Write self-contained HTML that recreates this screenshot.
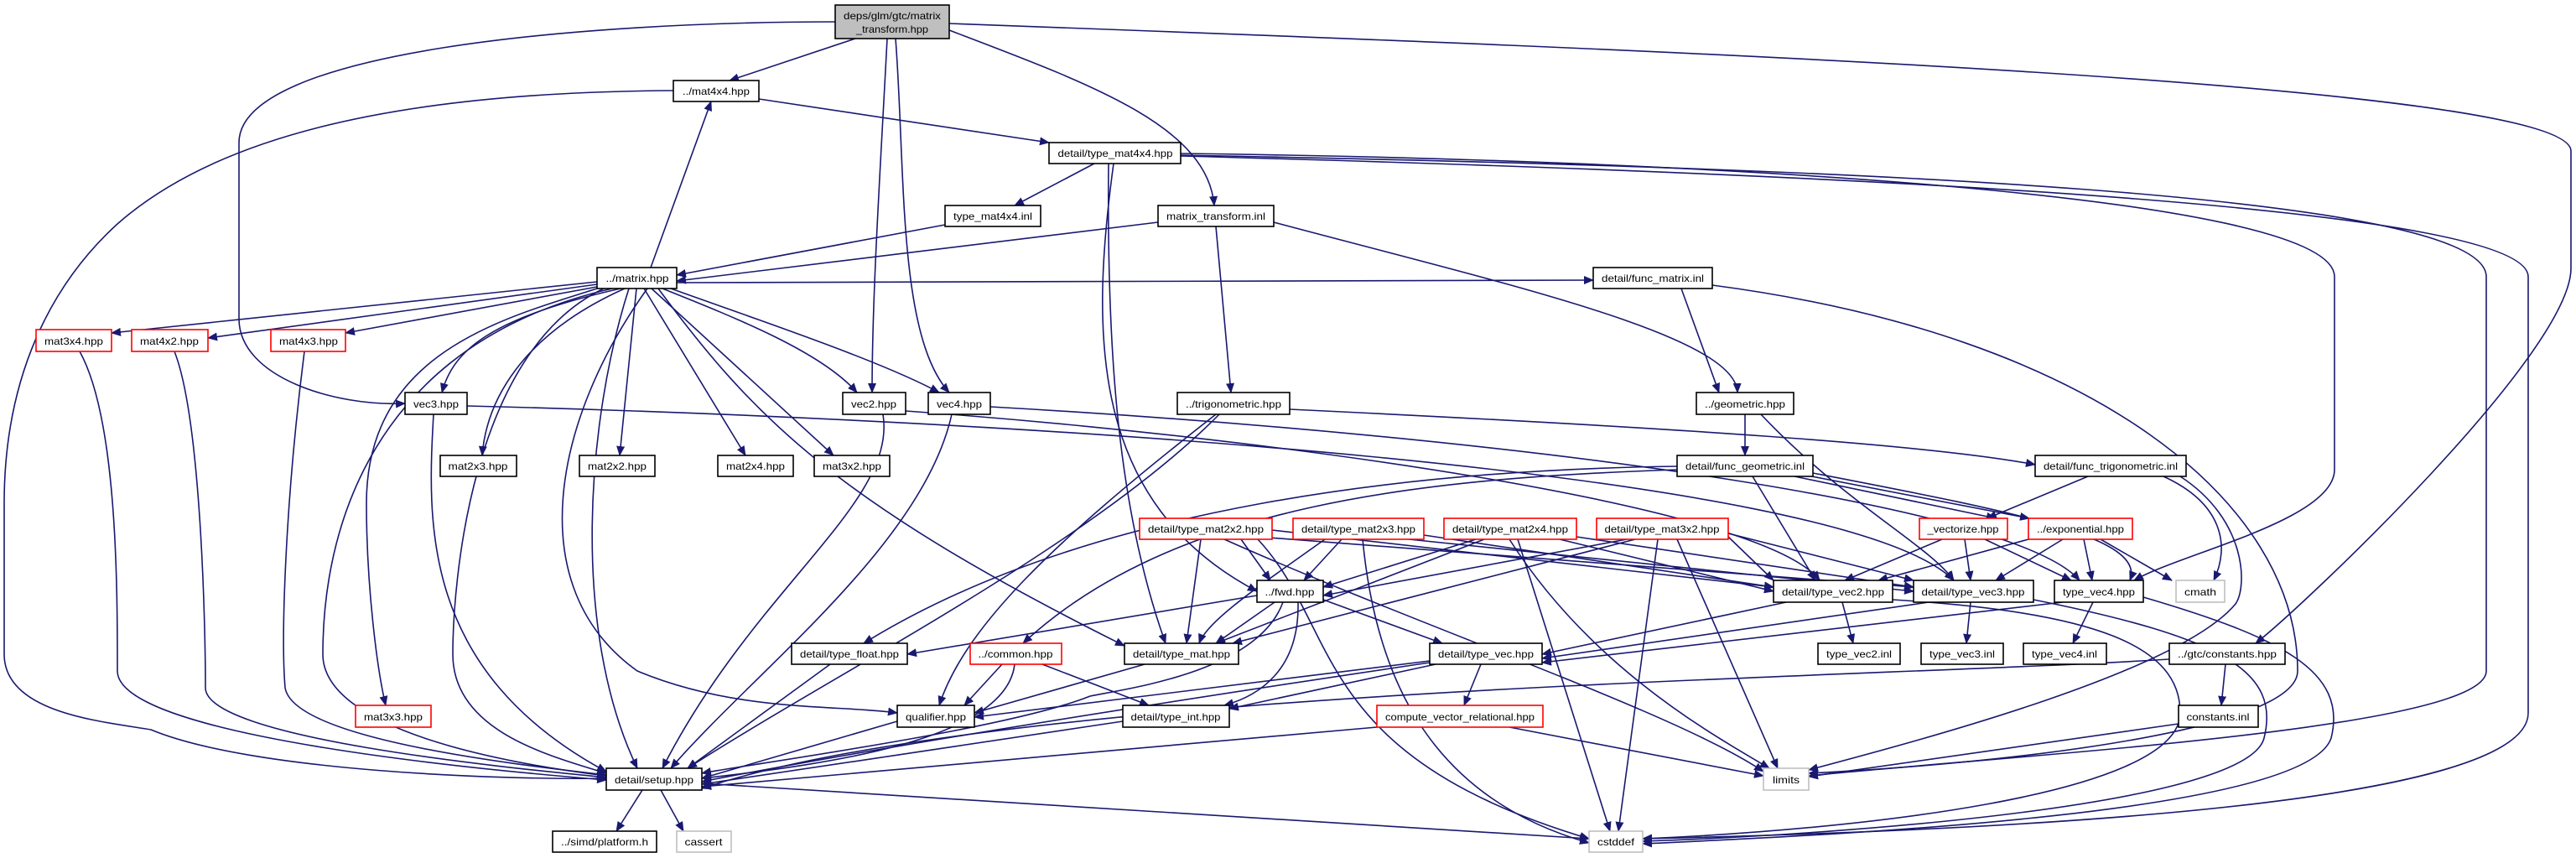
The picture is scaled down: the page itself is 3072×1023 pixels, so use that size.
<!DOCTYPE html>
<html><head><meta charset="utf-8"><style>
html,body{margin:0;padding:0;background:#fff;}
svg{display:block}
text{font-family:"Liberation Sans",sans-serif;font-size:12px;fill:#000}
.e{fill:none;stroke:#191970;stroke-width:1.6;marker-end:url(#a)}
.n{fill:#fff;stroke:#000;stroke-width:1.6}
.r{fill:#fff;stroke:#ff0000;stroke-width:1.6}
.g{fill:#fff;stroke:#bfbfbf;stroke-width:1.6}
</style></head><body>
<svg width="3072" height="1023" viewBox="0 0 3072 1023" xmlns="http://www.w3.org/2000/svg">
<defs><marker id="a" markerUnits="userSpaceOnUse" markerWidth="12" markerHeight="10" refX="11" refY="5" orient="auto"><path d="M0,0 L12,5 L0,10 z" fill="#191970"/></marker></defs>
<g>
<path class="e" d="M1020 46 L870 96"/>
<path class="e" d="M996 26 C700 26 285 60 285 170 L285 380 C285 450 400 485 483 481"/>
<path class="e" d="M1058 46 C1050 200 1040 350 1040 468"/>
<path class="e" d="M1068 46 C1080 200 1070 400 1132 468"/>
<path class="e" d="M1132 36 C1300 100 1440 150 1448 245"/>
<path class="e" d="M1132 28 C2000 60 3066 100 3066 180 L3066 320 C3066 420 2750 720 2690 767"/>
<path class="e" d="M905 118 L1251 170"/>
<path class="e" d="M803 108 C450 110 250 170 140 267 C60 340 5 450 5 600 L5 780 C5 850 120 860 180 870 C300 920 600 930 723 928"/>
<path class="e" d="M1305 195 L1210 245"/>
<path class="e" d="M1328 195 C1300 400 1300 600 1499 705"/>
<path class="e" d="M1322 195 C1320 400 1330 600 1390 767"/>
<path class="e" d="M1408 183 C2000 190 2784 230 2784 330 L2784 560 C2784 620 2600 660 2545 692"/>
<path class="e" d="M1408 185 C2200 200 2965 230 2965 330 L2965 800 C2965 870 2400 900 2157 925"/>
<path class="e" d="M1408 186 C2300 210 3015 250 3015 330 L3015 850 C3015 960 2400 990 1959 1000"/>
<path class="e" d="M1127 268 L807 328"/>
<path class="e" d="M1381 265 L807 335"/>
<path class="e" d="M1450 270 L1468 468"/>
<path class="e" d="M1519 265 C1800 340 2070 400 2072 468"/>
<path class="e" d="M776 319 L848 121"/>
<path class="e" d="M712 336 L133 397"/>
<path class="e" d="M712 339 L248 403"/>
<path class="e" d="M712 342 L412 397"/>
<path class="e" d="M740 344 C580 380 540 420 527 468"/>
<path class="e" d="M790 344 C880 380 980 420 1022 468"/>
<path class="e" d="M800 344 C900 380 1050 430 1120 468"/>
<path class="e" d="M745 344 C620 400 580 480 575 543"/>
<path class="e" d="M759 344 L739 543"/>
<path class="e" d="M768 344 L889 543"/>
<path class="e" d="M777 344 L994 543"/>
<path class="e" d="M712 344 C600 380 437 420 437 600 C437 700 450 800 460 841"/>
<path class="e" d="M807 337 L1900 334"/>
<path class="e" d="M730 344 C400 420 385 700 385 780 C385 870 600 910 723 925"/>
<path class="e" d="M720 344 C560 420 540 700 540 780 C540 870 650 900 723 922"/>
<path class="e" d="M772 344 C660 500 620 700 760 800 C880 850 1000 840 1070 850"/>
<path class="e" d="M785 344 C900 500 1000 600 1341 770"/>
<path class="e" d="M750 344 C700 500 680 750 760 916"/>
<path class="e" d="M95 419 C140 500 140 700 140 800 C140 880 600 920 723 930"/>
<path class="e" d="M208 419 C240 500 245 750 245 820 C245 880 600 915 723 927"/>
<path class="e" d="M363 419 C340 600 335 760 340 820 C350 880 600 910 723 924"/>
<path class="e" d="M517 494 C510 620 500 800 723 920"/>
<path class="e" d="M557 484 C1200 500 2200 560 2330 692"/>
<path class="e" d="M1053 494 C1070 600 900 700 790 916"/>
<path class="e" d="M1080 490 C1500 520 2100 600 2170 692"/>
<path class="e" d="M1135 494 C1100 650 900 800 800 916"/>
<path class="e" d="M1181 485 C1800 520 2400 600 2480 692"/>
<path class="e" d="M1454 494 C1300 650 1000 800 820 916"/>
<path class="e" d="M1450 494 C1250 650 1150 750 1120 841"/>
<path class="e" d="M1538 488 C2000 510 2300 530 2427 554"/>
<path class="e" d="M2005 344 L2050 468"/>
<path class="e" d="M2042 340 C2500 400 2740 600 2740 800 C2740 870 2400 910 2157 922"/>
<path class="e" d="M2081 494 L2081 543"/>
<path class="e" d="M2100 494 C2200 600 2300 650 2330 692"/>
<path class="e" d="M2000 556 C1700 560 1300 600 1030 767"/>
<path class="e" d="M2000 560 C1700 570 1400 600 1220 767"/>
<path class="e" d="M2090 568 L2165 692"/>
<path class="e" d="M2140 568 L2380 618"/>
<path class="e" d="M2150 566 L2420 618"/>
<path class="e" d="M2162 564 C2400 610 2560 640 2540 692"/>
<path class="e" d="M2490 568 L2370 618"/>
<path class="e" d="M2580 568 C2650 600 2660 650 2640 692"/>
<path class="e" d="M2600 568 C2680 620 2680 700 2666 720 C2600 800 2300 880 2157 918"/>
<path class="e" d="M1480 643 L1515 692"/>
<path class="e" d="M1432 643 L1415 767"/>
<path class="e" d="M1517 632 L2115 700"/>
<path class="e" d="M1500 640 L2282 700"/>
<path class="e" d="M1500 643 C1600 750 1560 900 1895 1000"/>
<path class="e" d="M1460 643 C1700 750 2000 850 2103 920"/>
<path class="e" d="M1600 643 L1555 692"/>
<path class="e" d="M1580 643 C1500 700 1440 740 1430 767"/>
<path class="e" d="M1698 638 L2115 700"/>
<path class="e" d="M1680 643 L2282 705"/>
<path class="e" d="M1625 643 C1640 800 1700 950 1895 1005"/>
<path class="e" d="M1760 643 L1578 700"/>
<path class="e" d="M1770 643 L1450 767"/>
<path class="e" d="M1860 643 L2115 705"/>
<path class="e" d="M1880 640 L2282 700"/>
<path class="e" d="M1800 643 C1900 800 2050 880 2110 916"/>
<path class="e" d="M1810 643 L1920 991"/>
<path class="e" d="M1940 643 L1578 710"/>
<path class="e" d="M1950 643 L1470 767"/>
<path class="e" d="M2061 640 L2115 692"/>
<path class="e" d="M2061 636 L2282 692"/>
<path class="e" d="M2000 643 L2120 916"/>
<path class="e" d="M1977 643 L1930 991"/>
<path class="e" d="M2316 643 L2200 692"/>
<path class="e" d="M2343 643 L2350 692"/>
<path class="e" d="M2367 643 L2470 692"/>
<path class="e" d="M2430 640 L2240 692"/>
<path class="e" d="M2460 643 L2380 692"/>
<path class="e" d="M2485 643 L2495 692"/>
<path class="e" d="M2505 643 L2590 692"/>
<path class="e" d="M1499 710 L1082 780"/>
<path class="e" d="M1520 718 L1450 767"/>
<path class="e" d="M1578 715 L1720 767"/>
<path class="e" d="M1548 718 C1550 800 1500 830 1460 841"/>
<path class="e" d="M1530 718 C1500 800 1350 820 1300 830 C1200 870 900 910 837 922"/>
<path class="e" d="M2130 718 L1839 780"/>
<path class="e" d="M2197 718 L2210 767"/>
<path class="e" d="M2257 715 C2500 730 2600 770 2600 850 C2600 950 2200 990 1959 1000"/>
<path class="e" d="M2300 718 L1839 785"/>
<path class="e" d="M2350 718 L2345 767"/>
<path class="e" d="M2425 715 C2650 760 2720 800 2700 880 C2680 960 2200 995 1959 1003"/>
<path class="e" d="M2460 718 L1839 790"/>
<path class="e" d="M2496 718 L2472 767"/>
<path class="e" d="M2556 712 C2720 760 2800 800 2780 880 C2750 970 2200 995 1959 1006"/>
<path class="e" d="M990 792 L820 916"/>
<path class="e" d="M1195 792 L1150 841"/>
<path class="e" d="M1210 792 C1200 880 1000 910 837 928"/>
<path class="e" d="M1243 792 L1370 841"/>
<path class="e" d="M1365 792 L1162 850"/>
<path class="e" d="M1705 788 L1162 855"/>
<path class="e" d="M1712 792 L1466 845"/>
<path class="e" d="M1766 792 L1746 841"/>
<path class="e" d="M1705 790 C1300 850 1000 900 837 932"/>
<path class="e" d="M1070 860 L837 928"/>
<path class="e" d="M1339 860 L837 935"/>
<path class="e" d="M1642 867 L837 938"/>
<path class="e" d="M1800 867 L2103 925"/>
<path class="e" d="M2587 786 C2200 810 1200 820 837 940"/>
<path class="e" d="M2654 792 L2649 841"/>
<path class="e" d="M2598 863 L2157 926"/>
<path class="e" d="M766 942 L735 991"/>
<path class="e" d="M788 942 L815 991"/>
<path class="e" d="M837 934 L1895 1000"/>
</g>
<g>
<rect x="996" y="6" width="136" height="40" fill="#bfbfbf" stroke="#000" stroke-width="1.6"/>
<text x="1064" y="23" text-anchor="middle" textLength="116" lengthAdjust="spacingAndGlyphs">deps/glm/gtc/matrix</text>
<text x="1064" y="39" text-anchor="middle" textLength="86" lengthAdjust="spacingAndGlyphs">_transform.hpp</text>

<rect class="n" x="803" y="96" width="102" height="25"/><text x="854" y="113" text-anchor="middle" textLength="80" lengthAdjust="spacingAndGlyphs">../mat4x4.hpp</text>
<rect class="n" x="1251" y="170" width="157" height="25"/><text x="1330" y="187" text-anchor="middle" textLength="137" lengthAdjust="spacingAndGlyphs">detail/type_mat4x4.hpp</text>
<rect class="n" x="1127" y="245" width="114" height="25"/><text x="1184" y="262" text-anchor="middle" textLength="94" lengthAdjust="spacingAndGlyphs">type_mat4x4.inl</text>
<rect class="n" x="1381" y="245" width="138" height="25"/><text x="1450" y="262" text-anchor="middle" textLength="118" lengthAdjust="spacingAndGlyphs">matrix_transform.inl</text>
<rect class="n" x="712" y="319" width="95" height="25"/><text x="760" y="336" text-anchor="middle" textLength="75" lengthAdjust="spacingAndGlyphs">../matrix.hpp</text>
<rect class="n" x="1900" y="319" width="142" height="25"/><text x="1971" y="336" text-anchor="middle" textLength="122" lengthAdjust="spacingAndGlyphs">detail/func_matrix.inl</text>

<rect class="r" x="43" y="393" width="90" height="26"/><text x="88" y="411" text-anchor="middle" textLength="70" lengthAdjust="spacingAndGlyphs">mat3x4.hpp</text>
<rect class="r" x="157" y="393" width="91" height="26"/><text x="202" y="411" text-anchor="middle" textLength="70" lengthAdjust="spacingAndGlyphs">mat4x2.hpp</text>
<rect class="r" x="323" y="393" width="89" height="26"/><text x="368" y="411" text-anchor="middle" textLength="70" lengthAdjust="spacingAndGlyphs">mat4x3.hpp</text>

<rect class="n" x="483" y="468" width="74" height="26"/><text x="520" y="486" text-anchor="middle" textLength="54" lengthAdjust="spacingAndGlyphs">vec3.hpp</text>
<rect class="n" x="1005" y="468" width="75" height="26"/><text x="1042" y="486" text-anchor="middle" textLength="54" lengthAdjust="spacingAndGlyphs">vec2.hpp</text>
<rect class="n" x="1107" y="468" width="74" height="26"/><text x="1144" y="486" text-anchor="middle" textLength="54" lengthAdjust="spacingAndGlyphs">vec4.hpp</text>
<rect class="n" x="1404" y="468" width="134" height="26"/><text x="1471" y="486" text-anchor="middle" textLength="114" lengthAdjust="spacingAndGlyphs">../trigonometric.hpp</text>
<rect class="n" x="2023" y="468" width="116" height="26"/><text x="2081" y="486" text-anchor="middle" textLength="96" lengthAdjust="spacingAndGlyphs">../geometric.hpp</text>

<rect class="n" x="525" y="543" width="91" height="25"/><text x="570" y="560" text-anchor="middle" textLength="71" lengthAdjust="spacingAndGlyphs">mat2x3.hpp</text>
<rect class="n" x="691" y="543" width="90" height="25"/><text x="736" y="560" text-anchor="middle" textLength="70" lengthAdjust="spacingAndGlyphs">mat2x2.hpp</text>
<rect class="n" x="856" y="543" width="90" height="25"/><text x="901" y="560" text-anchor="middle" textLength="70" lengthAdjust="spacingAndGlyphs">mat2x4.hpp</text>
<rect class="n" x="971" y="543" width="90" height="25"/><text x="1016" y="560" text-anchor="middle" textLength="70" lengthAdjust="spacingAndGlyphs">mat3x2.hpp</text>
<rect class="n" x="2000" y="543" width="162" height="25"/><text x="2081" y="560" text-anchor="middle" textLength="142" lengthAdjust="spacingAndGlyphs">detail/func_geometric.inl</text>
<rect class="n" x="2427" y="543" width="180" height="25"/><text x="2517" y="560" text-anchor="middle" textLength="160" lengthAdjust="spacingAndGlyphs">detail/func_trigonometric.inl</text>

<rect class="r" x="1359" y="618" width="158" height="25"/><text x="1438" y="635" text-anchor="middle" textLength="138" lengthAdjust="spacingAndGlyphs">detail/type_mat2x2.hpp</text>
<rect class="r" x="1542" y="618" width="156" height="25"/><text x="1620" y="635" text-anchor="middle" textLength="136" lengthAdjust="spacingAndGlyphs">detail/type_mat2x3.hpp</text>
<rect class="r" x="1722" y="618" width="158" height="25"/><text x="1801" y="635" text-anchor="middle" textLength="138" lengthAdjust="spacingAndGlyphs">detail/type_mat2x4.hpp</text>
<rect class="r" x="1904" y="618" width="157" height="25"/><text x="1982" y="635" text-anchor="middle" textLength="137" lengthAdjust="spacingAndGlyphs">detail/type_mat3x2.hpp</text>
<rect class="r" x="2289" y="618" width="105" height="25"/><text x="2341" y="635" text-anchor="middle" textLength="85" lengthAdjust="spacingAndGlyphs">_vectorize.hpp</text>
<rect class="r" x="2419" y="618" width="124" height="25"/><text x="2481" y="635" text-anchor="middle" textLength="104" lengthAdjust="spacingAndGlyphs">../exponential.hpp</text>

<rect class="n" x="1499" y="692" width="79" height="26"/><text x="1538" y="710" text-anchor="middle" textLength="59" lengthAdjust="spacingAndGlyphs">../fwd.hpp</text>
<rect class="n" x="2115" y="692" width="142" height="26"/><text x="2186" y="710" text-anchor="middle" textLength="122" lengthAdjust="spacingAndGlyphs">detail/type_vec2.hpp</text>
<rect class="n" x="2282" y="692" width="143" height="26"/><text x="2353" y="710" text-anchor="middle" textLength="123" lengthAdjust="spacingAndGlyphs">detail/type_vec3.hpp</text>
<rect class="n" x="2450" y="692" width="106" height="26"/><text x="2503" y="710" text-anchor="middle" textLength="86" lengthAdjust="spacingAndGlyphs">type_vec4.hpp</text>
<rect class="g" x="2595" y="692" width="58" height="26"/><text x="2624" y="710" text-anchor="middle" textLength="38" lengthAdjust="spacingAndGlyphs">cmath</text>

<rect class="n" x="944" y="767" width="138" height="25"/><text x="1013" y="784" text-anchor="middle" textLength="118" lengthAdjust="spacingAndGlyphs">detail/type_float.hpp</text>
<rect class="r" x="1157" y="767" width="109" height="25"/><text x="1211" y="784" text-anchor="middle" textLength="89" lengthAdjust="spacingAndGlyphs">../common.hpp</text>
<rect class="n" x="1341" y="767" width="136" height="25"/><text x="1409" y="784" text-anchor="middle" textLength="116" lengthAdjust="spacingAndGlyphs">detail/type_mat.hpp</text>
<rect class="n" x="1705" y="767" width="134" height="25"/><text x="1772" y="784" text-anchor="middle" textLength="114" lengthAdjust="spacingAndGlyphs">detail/type_vec.hpp</text>
<rect class="n" x="2168" y="767" width="98" height="25"/><text x="2217" y="784" text-anchor="middle" textLength="78" lengthAdjust="spacingAndGlyphs">type_vec2.inl</text>
<rect class="n" x="2291" y="767" width="98" height="25"/><text x="2340" y="784" text-anchor="middle" textLength="78" lengthAdjust="spacingAndGlyphs">type_vec3.inl</text>
<rect class="n" x="2413" y="767" width="99" height="25"/><text x="2462" y="784" text-anchor="middle" textLength="78" lengthAdjust="spacingAndGlyphs">type_vec4.inl</text>
<rect class="n" x="2587" y="767" width="138" height="25"/><text x="2656" y="784" text-anchor="middle" textLength="118" lengthAdjust="spacingAndGlyphs">../gtc/constants.hpp</text>

<rect class="r" x="424" y="841" width="90" height="26"/><text x="469" y="859" text-anchor="middle" textLength="70" lengthAdjust="spacingAndGlyphs">mat3x3.hpp</text>
<rect class="n" x="1070" y="841" width="92" height="26"/><text x="1116" y="859" text-anchor="middle" textLength="72" lengthAdjust="spacingAndGlyphs">qualifier.hpp</text>
<rect class="n" x="1339" y="841" width="127" height="26"/><text x="1402" y="859" text-anchor="middle" textLength="107" lengthAdjust="spacingAndGlyphs">detail/type_int.hpp</text>
<rect class="r" x="1642" y="841" width="198" height="26"/><text x="1741" y="859" text-anchor="middle" textLength="178" lengthAdjust="spacingAndGlyphs">compute_vector_relational.hpp</text>
<rect class="n" x="2598" y="841" width="95" height="26"/><text x="2645" y="859" text-anchor="middle" textLength="75" lengthAdjust="spacingAndGlyphs">constants.inl</text>

<rect class="n" x="723" y="916" width="114" height="26"/><text x="780" y="934" text-anchor="middle" textLength="94" lengthAdjust="spacingAndGlyphs">detail/setup.hpp</text>
<rect class="g" x="2103" y="916" width="54" height="26"/><text x="2130" y="934" text-anchor="middle" textLength="32" lengthAdjust="spacingAndGlyphs">limits</text>

<rect class="n" x="659" y="991" width="124" height="25"/><text x="721" y="1008" text-anchor="middle" textLength="104" lengthAdjust="spacingAndGlyphs">../simd/platform.h</text>
<rect class="g" x="807" y="991" width="65" height="25"/><text x="839" y="1008" text-anchor="middle" textLength="45" lengthAdjust="spacingAndGlyphs">cassert</text>
<rect class="g" x="1895" y="991" width="64" height="25"/><text x="1927" y="1008" text-anchor="middle" textLength="44" lengthAdjust="spacingAndGlyphs">cstddef</text>
</g>
</svg>
</body></html>
